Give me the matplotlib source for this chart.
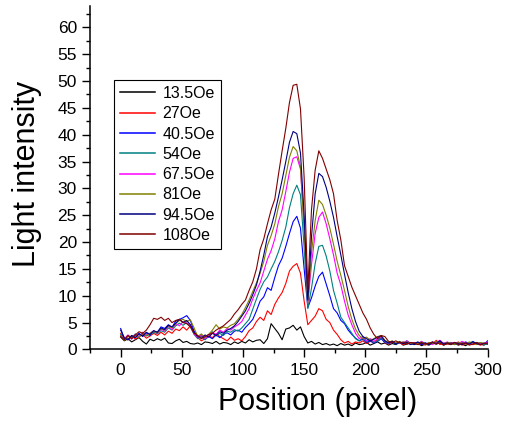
import numpy as np
import matplotlib
matplotlib.use('Agg')
import matplotlib.pyplot as plt
from matplotlib.ticker import MultipleLocator

plt.rcParams['font.family'] = ['Liberation Sans', 'DejaVu Sans']

# position (pixel), sampled every 3 px
position = np.arange(0, 301, 3)

labels = ['13.5Oe', '27Oe', '40.5Oe', '54Oe', '67.5Oe', '81Oe', '94.5Oe', '108Oe']
colors = ['#000000', '#ff0000', '#0000ff', '#008080', '#ff00ff', '#808000', '#000080', '#800000']

i_13_5 = [2.3, 1.6, 2.0, 1.4, 1.8, 2.2, 1.5, 1.0, 1.9, 1.6,
          2.0, 1.7, 2.1, 1.2, 1.1, 1.6, 1.9, 1.3, 1.5, 1.1,
          1.0, 1.2, 0.9, 1.4, 1.3, 1.1, 1.5, 1.0, 1.3, 1.2,
          0.9, 1.4, 1.1, 1.5, 1.2, 1.8, 1.4, 1.7, 1.8, 1.1,
          2.0, 4.8, 3.9, 3.0, 1.8, 3.8, 4.0, 4.5, 3.6, 4.2,
          2.4, 1.2, 1.5, 1.0, 1.3, 0.9, 1.1, 0.8, 1.0, 0.7,
          1.1, 0.8, 1.0, 0.7, 1.2, 0.9, 1.0, 1.3, 0.8, 1.1,
          1.4, 1.0, 1.2, 0.8, 1.1, 0.9, 1.3, 0.8, 1.0, 1.2,
          0.9, 1.1, 0.7, 1.0, 0.8, 1.2, 1.0, 1.4, 0.8, 1.1,
          0.9, 1.2, 0.8, 1.0, 0.7, 1.1, 0.9, 1.3, 1.0, 0.8, 1.2]

i_27 = [3.0, 2.2, 1.8, 2.6, 1.9, 2.4, 2.8, 2.1, 2.5, 3.0,
        2.6, 3.2, 2.7, 3.4, 3.0, 3.8, 3.5, 4.2, 3.6, 4.4,
        3.3, 2.2, 1.6, 2.0, 2.5, 2.2, 2.9, 2.4, 2.0, 1.6,
        2.3, 1.7, 2.0, 1.6, 2.4, 3.5, 4.0, 5.2, 6.0, 5.4,
        7.2, 6.5, 8.4, 9.6, 10.6, 12.3, 14.6, 15.5, 16.0, 14.2,
        9.0, 4.6, 5.4, 6.2, 7.6, 7.2, 5.6, 5.0, 3.6, 2.8,
        1.8, 1.2, 1.5, 1.0, 1.4, 1.2, 1.6, 1.1, 1.5, 1.3,
        1.8, 2.2, 1.2, 1.0, 1.4, 1.1, 1.3, 0.9, 1.2, 1.0,
        1.3, 0.9, 1.1, 0.8, 1.2, 1.0, 1.7, 0.9, 1.2, 1.0,
        1.1, 0.9, 1.4, 0.8, 1.0, 1.2, 0.9, 1.1, 0.8, 1.0, 1.3]

i_40_5 = [3.9, 2.0, 1.8, 2.5, 2.2, 3.0, 2.4, 3.1, 2.6, 3.4,
          3.2, 4.2, 3.9, 4.6, 4.1, 5.3, 5.6, 5.9, 6.3, 5.4,
          3.4, 2.2, 2.6, 1.9, 2.4, 2.0, 2.7, 2.2, 2.8, 3.1,
          2.7, 3.4, 3.6, 3.2, 4.1, 4.8, 5.6, 7.2, 9.0, 9.8,
          11.5, 11.0, 13.4, 15.6, 17.0, 19.2, 21.6, 23.8, 24.8, 22.6,
          15.0, 7.8, 9.6, 11.8, 13.6, 14.4, 12.2, 10.0, 7.6, 6.8,
          5.4, 4.8, 3.6, 2.8, 2.1, 1.6, 1.9, 1.3, 1.6, 1.2,
          1.5, 2.0, 1.3, 1.1, 1.4, 1.0, 1.3, 1.1, 1.5, 1.2,
          1.0, 1.3, 0.9, 1.2, 1.0, 1.4, 1.1, 1.6, 1.0, 1.2,
          1.3, 0.9, 1.2, 1.0, 1.4, 1.1, 1.5, 1.0, 1.2, 0.9, 1.6]

i_54 = [2.8, 1.9, 2.6, 2.2, 2.9, 2.3, 3.0, 2.5, 2.8, 3.2,
        2.9, 3.5, 3.2, 4.0, 3.6, 4.4, 4.9, 4.5, 5.0, 4.2,
        2.8, 2.0, 2.5, 1.8, 2.6, 3.3, 2.5, 3.0, 2.6, 3.4,
        3.2, 3.7, 3.4, 4.0, 4.8, 5.6, 7.5, 9.4, 11.2, 12.6,
        13.5, 15.0, 16.4, 18.2, 20.3, 22.8, 26.4, 29.0, 30.6, 28.8,
        19.0, 7.6, 11.4, 16.0, 19.2, 19.4, 17.4, 14.6, 11.0, 8.6,
        6.0, 5.0, 4.0, 3.0, 2.0, 1.6, 2.2, 1.4, 1.9, 1.3,
        1.6, 2.2, 1.4, 1.1, 1.5, 1.0, 1.3, 1.2, 1.6, 1.1,
        1.2, 1.0, 1.4, 1.1, 0.9, 1.3, 1.0, 1.5, 1.1, 1.3,
        1.0, 1.2, 0.9, 1.3, 1.1, 1.0, 1.4, 1.1, 1.2, 0.9, 1.1]

i_67_5 = [2.5, 2.0, 2.7, 1.9, 2.8, 2.4, 3.2, 2.7, 3.0, 3.5,
          3.0, 3.8, 3.4, 4.3, 3.7, 4.8, 4.4, 5.2, 4.9, 4.6,
          2.9, 2.2, 2.7, 2.0, 2.6, 3.1, 2.8, 3.6, 3.2, 3.9,
          3.6, 4.2, 4.6, 5.2, 6.4, 7.6, 9.4, 11.0, 12.4, 14.6,
          16.8, 18.4, 20.6, 23.8, 26.0, 29.4, 33.0, 35.6, 35.9, 33.6,
          23.0, 8.6, 15.8, 21.6, 24.6, 25.6, 23.4, 20.6, 17.6, 14.2,
          12.0, 9.0, 6.4, 4.6, 3.0, 2.0, 2.4, 1.6, 2.0, 1.5,
          2.0, 2.4, 1.6, 1.2, 1.5, 1.1, 1.4, 1.2, 1.6, 1.0,
          1.3, 1.1, 1.5, 1.0, 1.2, 0.9, 1.3, 1.7, 1.1, 1.4,
          1.1, 1.3, 1.0, 1.5, 1.2, 0.9, 1.3, 1.0, 1.2, 1.1, 1.4]

i_81 = [2.6, 1.7, 2.4, 2.1, 2.7, 2.2, 3.1, 2.6, 3.0, 3.4,
        3.1, 3.9, 3.6, 4.4, 4.0, 4.8, 5.4, 5.6, 5.2, 5.5,
        4.0, 2.4, 2.9, 2.2, 2.8, 3.6, 4.6, 3.8, 4.2, 4.0,
        4.5, 4.8, 5.6, 6.5, 7.8, 9.2, 10.8, 12.4, 14.2, 16.4,
        19.4, 21.2, 23.4, 26.6, 29.0, 32.4, 35.8, 37.8, 37.0, 34.0,
        22.0, 8.6, 18.0, 24.0, 27.8, 27.0, 25.0, 22.6, 19.6, 16.4,
        13.8, 11.0, 8.0, 5.6, 3.8, 2.6, 2.0, 2.3, 1.7, 2.0,
        2.4, 2.6, 1.7, 1.3, 1.6, 1.2, 1.5, 1.1, 1.4, 1.0,
        1.2, 1.0, 1.4, 0.9, 1.3, 1.1, 1.5, 1.2, 1.0, 1.3,
        1.2, 0.9, 1.3, 1.1, 1.0, 1.4, 1.2, 0.9, 1.3, 1.1, 1.0]

i_94_5 = [3.6, 2.1, 1.8, 2.6, 2.2, 2.9, 2.5, 3.2, 2.8, 3.5,
          3.2, 4.0, 3.7, 4.5, 4.2, 4.9, 5.6, 5.0, 5.4, 4.6,
          3.2, 2.4, 2.1, 2.7, 2.3, 3.0, 2.6, 3.3, 3.0, 3.6,
          3.9, 4.4, 5.2, 6.2, 7.2, 8.6, 10.2, 12.0, 14.6, 17.6,
          21.0, 22.8, 25.4, 28.4, 31.6, 35.0, 38.6, 40.6, 40.2, 36.6,
          25.0, 9.2, 21.0, 29.0, 32.8, 32.2, 30.2, 27.6, 24.6, 21.0,
          17.6, 14.0, 10.6, 7.6, 5.2, 3.4, 2.4, 2.0, 1.6, 1.9,
          2.3, 2.5, 1.6, 1.2, 1.5, 1.0, 1.4, 1.1, 1.3, 0.9,
          1.1, 1.4, 1.0, 1.2, 0.9, 1.3, 1.1, 1.6, 1.0, 1.2,
          1.0, 1.3, 1.1, 0.9, 1.2, 1.0, 1.4, 1.1, 0.9, 1.2, 1.0]

i_108 = [2.4, 1.8, 2.6, 2.0, 2.7, 3.3, 3.0, 3.6, 4.6, 5.8,
         5.6, 6.0, 5.4, 5.8, 5.0, 5.4, 5.6, 5.0, 4.8, 4.2,
         3.0, 2.6, 2.0, 2.4, 2.8, 3.0, 3.6, 4.0, 4.4, 5.0,
         5.6, 6.6, 7.4, 8.4, 9.2, 11.0, 12.6, 15.0, 18.6, 20.6,
         23.4, 26.0, 28.0, 32.6, 37.0, 41.2, 46.0, 49.2, 49.4, 44.8,
         32.0, 11.0, 26.0, 33.4, 37.0, 35.6, 33.6, 31.6, 29.0, 24.0,
         20.4, 15.6, 13.6, 11.6, 10.0, 8.4, 6.8, 5.6, 4.0, 2.8,
         2.0, 2.6, 2.4, 1.5, 1.3, 1.6, 1.2, 1.4, 1.0, 1.3,
         1.2, 0.9, 1.3, 1.0, 1.1, 1.4, 1.0, 1.2, 0.8, 1.1,
         1.0, 1.3, 0.9, 1.1, 1.2, 0.8, 1.0, 1.3, 0.9, 1.1, 1.2]

series = [i_13_5, i_27, i_40_5, i_54, i_67_5, i_81, i_94_5, i_108]

fig = plt.figure(figsize=(5.09, 4.21), dpi=100)
ax = fig.add_axes([0.177, 0.170, 0.781, 0.816])

for vals, lab, c in zip(series, labels, colors):
    ax.plot(position, vals, color=c, lw=0.8, label=lab)

ax.set_xlim(-25, 300)
ax.set_ylim(0, 64)
ax.xaxis.set_major_locator(MultipleLocator(50))
ax.xaxis.set_minor_locator(MultipleLocator(25))
ax.yaxis.set_major_locator(MultipleLocator(5))
ax.yaxis.set_minor_locator(MultipleLocator(2.5))
ax.tick_params(which='major', direction='out', length=6, width=1, labelsize=12.5)
ax.tick_params(which='minor', direction='out', length=3, width=1)

ax.spines['top'].set_visible(False)
ax.spines['right'].set_visible(False)
ax.spines['left'].set_linewidth(1.1)
ax.spines['bottom'].set_linewidth(1.1)

ax.set_xlabel('Position (pixel)', fontsize=22, va='center')
ax.set_ylabel('Light intensity', fontsize=22, va='center')
ax.xaxis.set_label_coords(0.573, -0.153)
ax.yaxis.set_label_coords(-0.158, 0.51)

leg = ax.legend(loc='upper left', bbox_to_anchor=(0.060, 0.783), borderaxespad=0,
                fontsize=11.5, fancybox=False, framealpha=1, edgecolor='black',
                handlelength=2.2, handletextpad=0.5, labelspacing=0.33,
                borderpad=0.35)
leg.get_frame().set_linewidth(0.8)
for line in leg.get_lines():
    line.set_linewidth(1.1)

plt.savefig('out.png', dpi=100)
